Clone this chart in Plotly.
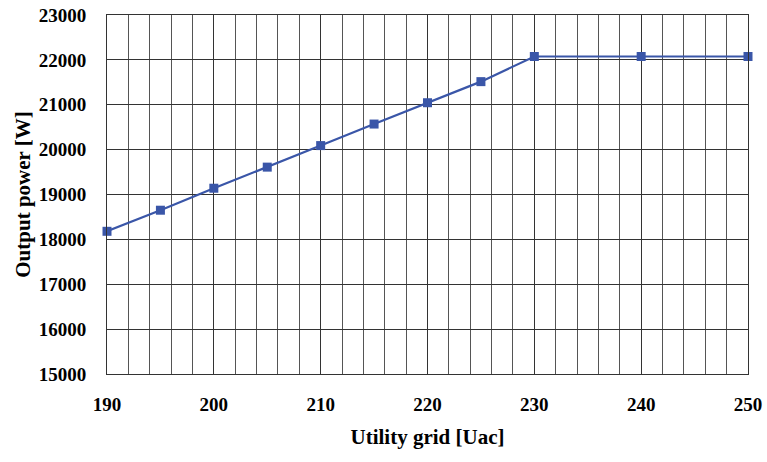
import plotly.graph_objects as go

voltage = [190, 195, 200, 205, 210, 215, 220, 225, 230, 240, 250]
power = [18180, 18650, 19140, 19610, 20090, 20570, 21045, 21515, 22075, 22075, 22075]

x_ticks = [190, 200, 210, 220, 230, 240, 250]
y_ticks = [15000, 16000, 17000, 18000, 19000, 20000, 21000, 22000, 23000]

font_family = "Liberation Serif"

fig = go.Figure()
fig.add_trace(go.Scatter(
    x=voltage, y=power, mode="lines+markers",
    line=dict(color="#3A56A8", width=2.2),
    marker=dict(symbol="square", size=9, color="#3A56A8"),
    showlegend=False, cliponaxis=False,
))

fig.update_layout(
    width=767, height=462,
    margin=dict(l=107, r=19, t=15, b=88),
    paper_bgcolor="white", plot_bgcolor="white",
    font=dict(family=font_family, color="black"),
)
fig.update_xaxes(
    range=[190, 250], tickvals=x_ticks, ticktext=[str(v) for v in x_ticks],
    automargin=False, ticklabeloverflow="allow",
    showgrid=True, gridcolor="#333333", gridwidth=1,
    minor=dict(dtick=2, tick0=190, showgrid=True, gridcolor="#555555", gridwidth=1),
    showline=True, linecolor="#333333", linewidth=1, mirror=True,
    ticks="", ticklabelstandoff=13,
    tickfont=dict(family=font_family, size=19, color="black", weight="bold"),
    title=dict(text="<b>Utility grid [Uac]</b>", standoff=15,
               font=dict(family=font_family, size=21, color="black")),
    zeroline=False,
)
fig.update_yaxes(
    range=[15000, 23000], tickvals=y_ticks, ticktext=[str(v) for v in y_ticks],
    automargin=False, ticklabeloverflow="allow",
    showgrid=True, gridcolor="#333333", gridwidth=1,
    showline=True, linecolor="#333333", linewidth=1, mirror=True,
    ticks="", ticklabelstandoff=16,
    tickfont=dict(family=font_family, size=19, color="black", weight="bold"),
    title=dict(text="<b>Output power [W]</b>", standoff=2,
               font=dict(family=font_family, size=21, color="black")),
    zeroline=False,
)

fig.write_html("out.html", config={"displayModeBar": False},
               post_script="document.body.style.margin='0';")
